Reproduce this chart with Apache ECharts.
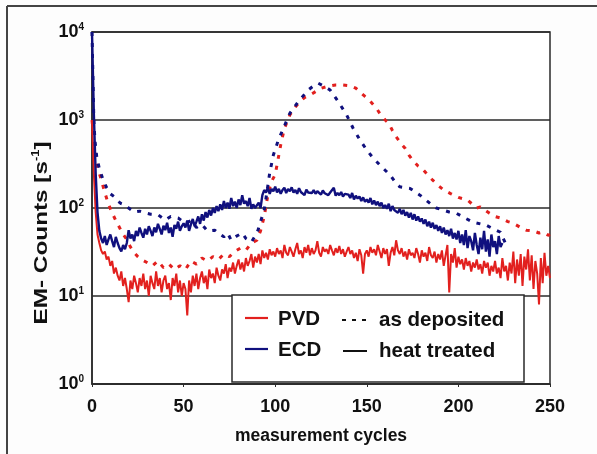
<!DOCTYPE html>
<html>
<head>
<meta charset="utf-8">
<script src="https://cdn.jsdelivr.net/npm/echarts@6/dist/echarts.min.js"></script>
<style>
html,body{margin:0;padding:0;background:#fdfdfd;}
#main{width:597px;height:454px;}
</style>
</head>
<body>
<div id="main"></div>
<script>
// ---- data ----
const xTicks = [0, 50, 100, 150, 200, 250];
const yTicks = [1, 10, 100, 1000, 10000];

// PVD heat treated (red solid), one value per cycle, cycles 0..250
const pvdHeat = [
 1000,250,90,50,40,33,30,32,26,28,
 22,25,18,21,17,15,19,13,16,12,
 8.5,15,12,17,14,11,16,13,18,12,
 15,10,17,14,12,19,13,16,11,15,
 17,12,14,9,16,13,18,11,15,10,
 14,12,6,15,11,17,13,18,12,16,
 19,14,17,12,20,16,18,14,21,17,
 15,20,18,23,16,21,19,24,18,22,
 26,20,24,19,27,22,25,30,21,28,
 24,30,23,33,27,31,26,34,29,32,
 28,35,30,33,27,38,31,29,36,32,
 28,34,40,30,33,27,36,31,38,29,
 35,30,33,42,31,28,36,32,34,30,
 38,33,29,35,31,37,30,34,28,32,
 36,30,33,27,31,25,34,29,18,30,
 33,28,36,31,34,29,38,32,27,35,
 30,34,22,31,36,29,43,33,30,35,
 28,32,26,34,29,31,27,35,30,24,
 33,28,31,25,36,29,27,32,24,30,
 26,33,22,29,38,11,30,24,35,21,
 28,23,26,20,27,22,25,19,24,21,
 26,20,23,18,25,21,24,17,22,19,
 25,18,21,16,27,19,22,15,24,18,
 32,14,26,17,30,13,28,20,34,15,
 29,12,25,18,8,27,14,31,17,22,
 16
];

// ECD heat treated (blue solid), one value per cycle, cycles 0..224
const ecdHeat = [
 10000,1200,250,90,55,45,40,48,38,44,
 50,42,36,47,40,35,32,38,34,40,
 56,45,50,42,55,48,60,52,46,58,
 50,62,55,48,60,53,66,58,50,63,
 56,68,52,60,47,64,58,70,55,62,
 67,60,72,55,65,75,62,70,80,66,
 85,72,90,78,95,82,100,88,105,92,
 110,95,120,100,115,98,130,105,118,100,
 125,108,140,112,120,105,130,98,110,100,
 105,115,100,140,160,150,170,145,165,155,
 175,150,165,145,160,170,148,165,155,172,
 150,160,145,168,152,158,140,162,150,155,
 148,160,145,155,150,142,158,147,152,140,
 150,145,170,138,148,140,152,135,145,138,
 142,130,148,125,138,128,135,120,132,118,
 125,115,130,110,122,108,118,105,115,100,
 108,98,112,92,105,95,100,88,98,85,
 95,82,90,78,88,74,85,72,80,70,
 76,66,74,62,70,60,68,58,64,55,
 62,52,60,50,56,48,58,45,52,44,
 55,40,50,38,56,35,48,42,33,52,
 38,30,46,34,55,32,44,28,50,36,
 42,30,48,36,40
];

// PVD as deposited (red dashed)
const pvdDepX = [0,1,2,3,5,7,9,11,13,15,17,19,21,23,25,27,30,33,36,39,42,45,48,51,54,57,60,63,66,69,72,75,78,81,84,87,90,92,94,96,98,100,102,103,105,108,111,113.5,116,119,122,125,129,133,137,141,144,146,149,152,155,157,160,162,164,166,169,171,173,175,178,180,184,186,189,192,196,200,205,210,212,215,217,220,223,227,230,234,237,241,244,246,249,250];
const pvdDepY = [1000,600,400,293,210,150,110,88,72,60,50,44,36,31,28,26,24,22,25,21,23,20,22,20,25,23,27,25,28,26,30,28,32,35,33,40,43,55,80,140,200,240,400,520,800,1140,1400,1620,1800,1920,2100,2290,2420,2500,2500,2450,2300,2100,1850,1620,1380,1200,1000,915,760,645,530,475,400,350,300,283,228,207,180,160,145,132,123,100,103,93,87,80,77,70,67,60,56,55,52,53,49,50];

// ECD as deposited (blue dashed)
const ecdDepX = [0,1,1.6,2.6,4,6,8,10,12,14,16,18,20,23,26,29,32,36,40,43,47,51,54,57,60,63,67,70,72,74,76,79,82,84,87,89,90.6,92,94,95,97,99,101.7,104.4,108,112.6,118,121,123.5,127,130,134.4,139,142.6,146.3,150,153.6,158,162.7,166,168,173.6,179,184.5,188,191.6,195,199,203,208,212,215,219,223,225.6];
const ecdDepY = [10000,1000,590,380,280,210,170,145,135,120,112,108,100,90,92,88,85,84,73,80,77,67,72,60,65,55,56,50,47,52,43,48,52,45,41,48,56,70,95,130,250,400,590,800,1190,1620,2190,2450,2620,2400,2190,1620,1140,800,590,455,367,295,237,190,174,167,140,113,100,95,90,87,78,69,66,64,58,53,40];

// ---- styles ----
const RED = '#e2201e';
const BLUE = '#10107e';
const FONT = '"Liberation Sans", Arial, sans-serif';

const pairsIdx = arr => arr.map((v, i) => [i, v]);
const pairsXY = (xs, ys) => xs.map((x, i) => [x, ys[i]]);

const chart = echarts.init(document.getElementById('main'), null, {renderer: 'canvas'});

const option = {
  backgroundColor: '#fdfdfd',
  animation: false,
  grid: {left: 92, right: 47, top: 32, bottom: 70, show: true, backgroundColor: '#ffffff',
         borderColor: '#2a2a2a', borderWidth: 1.5},
  xAxis: {
    type: 'value', min: 0, max: 250, interval: 50,
    name: 'measurement cycles', nameLocation: 'middle', nameGap: 43,
    nameTextStyle: {fontFamily: FONT, fontWeight: 'bold', fontSize: 17.5, color: '#111'},
    axisLine: {show: true, lineStyle: {color: '#2a2a2a', width: 1.5}},
    axisTick: {show: true, length: 3, inside: false, lineStyle: {color: '#2a2a2a'}},
    axisLabel: {fontFamily: FONT, fontWeight: 'bold', fontSize: 18, color: '#111', margin: 14},
    splitLine: {show: false}
  },
  yAxis: {
    type: 'log', logBase: 10, min: 1, max: 10000,
    axisLine: {show: true, lineStyle: {color: '#2a2a2a', width: 1.5}},
    axisTick: {show: false},
    minorTick: {show: false},
    axisLabel: {
      margin: 8,
      formatter: v => '{b|10}{s|' + Math.round(Math.log10(v)) + '}',
      rich: {
        b: {fontFamily: FONT, fontWeight: 'bold', fontSize: 18, color: '#111', lineHeight: 20},
        s: {fontFamily: FONT, fontWeight: 'bold', fontSize: 10, color: '#111', verticalAlign: 'top', lineHeight: 20}
      }
    },
    splitLine: {show: true, lineStyle: {color: '#2a2a2a', width: 1.5}}
  },
  series: [
    {name: 'PVD heat treated', type: 'line', showSymbol: false, data: pairsIdx(pvdHeat),
     lineStyle: {color: RED, width: 2}, z: 3},
    {name: 'ECD heat treated', type: 'line', showSymbol: false, data: pairsIdx(ecdHeat),
     lineStyle: {color: BLUE, width: 2.4}, z: 4},
    {name: 'PVD as deposited', type: 'line', showSymbol: false, data: pairsXY(pvdDepX, pvdDepY),
     lineStyle: {color: RED, width: 3, type: [4, 7]}, z: 2},
    {name: 'ECD as deposited', type: 'line', showSymbol: false, data: pairsXY(ecdDepX, ecdDepY),
     lineStyle: {color: BLUE, width: 3, type: [4, 7]}, z: 2}
  ],
  graphic: [
    // outer figure frame (top and left)
    {type: 'line', shape: {x1: 7, y1: 6, x2: 597, y2: 6}, style: {stroke: '#444', lineWidth: 2}, z: 100},
    {type: 'line', shape: {x1: 7, y1: 6, x2: 7, y2: 454}, style: {stroke: '#444', lineWidth: 2}, z: 100},
    // y-axis title
    {type: 'text', x: 42, y: 233, rotation: Math.PI / 2, scaleX: 1.28, scaleY: 1,
     style: {text: '{t|EM- Counts [s}{s|-1}{t|]}', align: 'center', verticalAlign: 'middle',
             rich: {t: {fontFamily: FONT, fontWeight: 'bold', fontSize: 19, fill: '#111', lineHeight: 22},
                    s: {fontFamily: FONT, fontWeight: 'bold', fontSize: 10, fill: '#111', verticalAlign: 'top', lineHeight: 22}}},
     z: 100},
    // legend box
    {type: 'rect', shape: {x: 232, y: 295, width: 292, height: 87},
     style: {fill: '#ffffff', stroke: '#2a2a2a', lineWidth: 1.5}, z: 100},
    {type: 'line', shape: {x1: 245, y1: 318, x2: 268, y2: 318}, style: {stroke: RED, lineWidth: 2.2}, z: 101},
    {type: 'text', x: 278, y: 319, style: {text: 'PVD', font: 'bold 20.5px ' + FONT, fill: '#111', verticalAlign: 'middle'}, z: 101},
    {type: 'line', shape: {x1: 245, y1: 349, x2: 268, y2: 349}, style: {stroke: BLUE, lineWidth: 2.2}, z: 101},
    {type: 'text', x: 278, y: 350, style: {text: 'ECD', font: 'bold 20.5px ' + FONT, fill: '#111', verticalAlign: 'middle'}, z: 101},
    {type: 'line', shape: {x1: 342, y1: 320, x2: 370, y2: 320}, style: {stroke: '#111', lineWidth: 2, lineDash: [4, 6]}, z: 101},
    {type: 'text', x: 379, y: 320, style: {text: 'as deposited', font: 'bold 20.5px ' + FONT, fill: '#111', verticalAlign: 'middle'}, z: 101},
    {type: 'line', shape: {x1: 343, y1: 351, x2: 367, y2: 351}, style: {stroke: '#111', lineWidth: 2}, z: 101},
    {type: 'text', x: 379, y: 351, style: {text: 'heat treated', font: 'bold 20.5px ' + FONT, fill: '#111', verticalAlign: 'middle'}, z: 101}
  ]
};
chart.setOption(option);
</script>
</body>
</html>
